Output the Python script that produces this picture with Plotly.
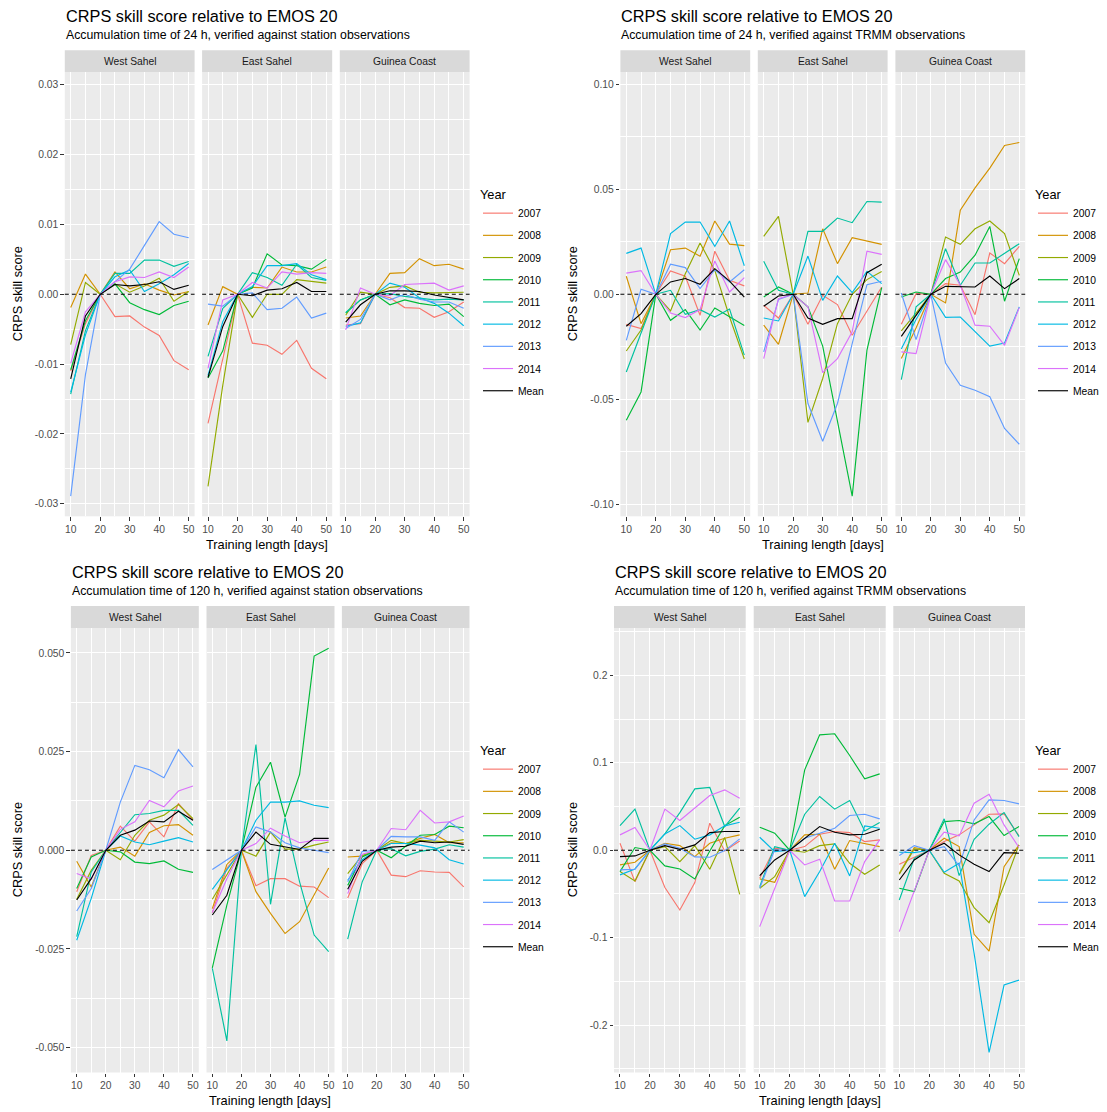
import plotly.graph_objects as go

# ---------------- data ----------------
training_length = [10, 15, 20, 25, 30, 35, 40, 45, 50]
series_names = ["2007", "2008", "2009", "2010", "2011", "2012", "2013", "2014", "Mean"]
series_colors = ["#F8766D", "#D39200", "#93AA00", "#00BA38", "#00C19F",
                 "#00B9E3", "#619CFF", "#DB72FB", "#000000"]
regions = ["West Sahel", "East Sahel", "Guinea Coast"]

# Accumulation 24 h, station observations (rows: 2007..2014, Mean)
station24_west_sahel = [
    [-0.0110, -0.0042, 0, -0.0032, -0.0031, -0.0047, -0.0059, -0.0095, -0.0108],
    [-0.0019, 0.0029, 0, 0.0032, 0.0008, 0.0015, 0.0006, -0.0001, 0.0004],
    [-0.0072, 0.0017, 0, 0.0015, 0.0003, 0.0012, 0.0023, -0.0010, 0.0004],
    [-0.0108, -0.0038, 0, 0.0015, -0.0012, -0.0022, -0.0029, -0.0016, -0.0010],
    [-0.0143, -0.0052, 0, 0.0030, 0.0030, 0.0049, 0.0049, 0.0040, 0.0047],
    [-0.0140, -0.0058, 0, 0.0025, 0.0035, 0.0004, 0.0015, 0.0028, 0.0044],
    [-0.0289, -0.0115, 0, 0.0018, 0.0036, 0.0070, 0.0104, 0.0086, 0.0081],
    [-0.0099, -0.0025, 0, 0.0018, 0.0025, 0.0024, 0.0032, 0.0024, 0.0039],
    [-0.0121, -0.0031, 0, 0.0014, 0.0012, 0.0014, 0.0018, 0.0007, 0.0013],
]
station24_east_sahel = [
    [-0.0185, -0.0093, 0, -0.0070, -0.0073, -0.0086, -0.0066, -0.0106, -0.0121],
    [-0.0044, 0.0011, 0, 0.0010, 0.0009, 0.0039, 0.0032, 0.0032, 0.0039],
    [-0.0275, -0.0130, 0, -0.0033, 0.0000, 0.0000, 0.0021, 0.0019, 0.0016],
    [-0.0120, -0.0081, 0, 0.0009, 0.0058, 0.0042, 0.0041, 0.0036, 0.0050],
    [-0.0089, -0.0020, 0, 0.0031, 0.0024, 0.0013, 0.0043, 0.0024, 0.0020],
    [-0.0116, -0.0039, 0, 0.0011, 0.0041, 0.0041, 0.0044, 0.0028, 0.0021],
    [-0.0014, -0.0017, 0, 0.0002, -0.0022, -0.0020, -0.0004, -0.0034, -0.0027],
    [-0.0106, -0.0008, 0, 0.0017, 0.0009, 0.0032, 0.0029, 0.0031, 0.0030],
    [-0.0119, -0.0046, 0, -0.0002, 0.0006, 0.0008, 0.0017, 0.0004, 0.0004],
]
station24_guinea_coast = [
    [-0.0044, -0.0042, 0, -0.0005, -0.0019, -0.0020, -0.0033, -0.0025, -0.0011],
    [-0.0034, -0.0031, 0, 0.0030, 0.0031, 0.0051, 0.0041, 0.0043, 0.0036],
    [-0.0030, 0.0003, 0, 0.0010, 0.0012, 0.0003, 0.0002, 0.0002, 0.0003],
    [-0.0027, -0.0008, 0, -0.0015, -0.0008, -0.0013, -0.0016, -0.0014, -0.0032],
    [-0.0026, -0.0008, 0, 0.0001, -0.0003, -0.0005, -0.0008, -0.0007, -0.0008],
    [-0.0046, -0.0041, 0, 0.0016, 0.0010, -0.0005, -0.0013, -0.0027, -0.0045],
    [-0.0049, -0.0036, 0, -0.0008, 0.0000, -0.0007, -0.0011, -0.0011, -0.0020],
    [-0.0051, 0.0009, 0, -0.0002, 0.0014, 0.0015, 0.0016, 0.0006, 0.0012],
    [-0.0040, -0.0015, 0, 0.0005, 0.0005, 0.0004, -0.0001, -0.0005, -0.0008],
]

# Accumulation 24 h, TRMM observations
trmm24_west_sahel = [
    [-0.0143, -0.0163, 0, 0.0111, 0.0086, -0.0100, 0.0205, 0.0067, 0.0040],
    [0.0086, -0.0140, 0, 0.0212, 0.0220, 0.0181, 0.0349, 0.0239, 0.0232],
    [-0.0270, -0.0170, 0, -0.0079, 0.0098, 0.0244, 0.0114, -0.0108, -0.0308],
    [-0.0600, -0.0465, 0, -0.0124, -0.0073, -0.0170, -0.0065, -0.0105, -0.0149],
    [-0.0370, -0.0180, 0, 0.0019, -0.0095, -0.0073, -0.0108, -0.0070, -0.0290],
    [0.0195, 0.0220, 0, 0.0289, 0.0344, 0.0344, 0.0228, 0.0349, 0.0136],
    [-0.0219, 0.0024, 0, 0.0143, 0.0127, 0.0027, 0.0117, 0.0059, 0.0117],
    [0.0101, 0.0113, 0, -0.0089, -0.0111, -0.0073, 0.0159, 0.0011, 0.0079],
    [-0.0152, -0.0092, 0, 0.0059, 0.0075, 0.0048, 0.0122, 0.0063, -0.0013],
]
trmm24_east_sahel = [
    [-0.0052, -0.0113, 0, -0.0143, -0.0005, -0.0049, -0.0195, -0.0079, 0.0035],
    [-0.0147, -0.0238, 0, 0.0006, 0.0312, 0.0146, 0.0270, 0.0254, 0.0238],
    [0.0276, 0.0371, 0, -0.0610, -0.0401, -0.0140, 0.0000, 0.0070, 0.0109],
    [-0.0013, 0.0035, 0, -0.0060, -0.0247, -0.0600, -0.0961, -0.0266, 0.0032],
    [0.0157, 0.0019, 0, 0.0300, 0.0300, 0.0363, 0.0341, 0.0442, 0.0439],
    [-0.0113, -0.0127, 0, 0.0182, -0.0029, 0.0087, 0.0008, 0.0109, 0.0051],
    [-0.0274, -0.0025, 0, -0.0520, -0.0700, -0.0520, -0.0235, 0.0046, 0.0062],
    [-0.0306, -0.0021, 0, -0.0060, -0.0373, -0.0306, -0.0179, 0.0205, 0.0190],
    [-0.0057, -0.0008, 0, -0.0113, -0.0143, -0.0116, -0.0116, 0.0103, 0.0143],
]
trmm24_guinea_coast = [
    [-0.0143, 0.0003, 0, 0.0051, 0.0043, -0.0097, 0.0197, 0.0146, 0.0228],
    [-0.0306, -0.0160, 0, -0.0041, 0.0400, 0.0507, 0.0601, 0.0709, 0.0723],
    [-0.0174, -0.0090, 0, 0.0273, 0.0238, 0.0312, 0.0349, 0.0289, 0.0090],
    [-0.0013, 0.0011, 0, 0.0075, 0.0106, 0.0186, 0.0323, -0.0033, 0.0170],
    [-0.0406, -0.0060, 0, 0.0217, 0.0043, 0.0149, 0.0149, 0.0193, 0.0241],
    [-0.0260, -0.0120, 0, -0.0110, -0.0108, -0.0180, -0.0247, -0.0232, -0.0060],
    [0.0006, -0.0216, 0, -0.0327, -0.0433, -0.0457, -0.0488, -0.0639, -0.0714],
    [-0.0274, -0.0282, 0, 0.0165, 0.0043, -0.0147, -0.0152, -0.0243, -0.0063],
    [-0.0200, -0.0100, 0, 0.0038, 0.0038, 0.0035, 0.0087, 0.0027, 0.0075],
]

# Accumulation 120 h, station observations
station120_west_sahel = [
    [-0.0105, -0.0013, 0, 0.0061, 0.0023, 0.0072, 0.0034, 0.0118, 0.0076],
    [-0.0028, -0.0093, 0, 0.0008, -0.0015, 0.0045, 0.0062, 0.0065, 0.0038],
    [-0.0124, -0.0051, 0, -0.0024, 0.0038, 0.0076, 0.0089, 0.0116, 0.0080],
    [-0.0097, -0.0017, 0, -0.0004, -0.0030, -0.0034, -0.0027, -0.0048, -0.0056],
    [-0.0219, -0.0055, 0, 0.0045, 0.0090, 0.0093, 0.0101, 0.0101, 0.0063],
    [-0.0228, -0.0122, 0, 0.0036, 0.0021, 0.0014, 0.0023, 0.0032, 0.0021],
    [-0.0154, -0.0097, 0, 0.0122, 0.0215, 0.0204, 0.0184, 0.0255, 0.0211],
    [-0.0059, -0.0073, 0, 0.0053, 0.0072, 0.0126, 0.0110, 0.0150, 0.0163],
    [-0.0126, -0.0072, 0, 0.0038, 0.0051, 0.0074, 0.0072, 0.0099, 0.0076],
]
station120_east_sahel = [
    [-0.0158, -0.0046, 0, -0.0090, -0.0072, -0.0072, -0.0091, -0.0093, -0.0120],
    [-0.0148, -0.0036, 0, -0.0105, -0.0160, -0.0211, -0.0181, -0.0112, -0.0045],
    [-0.0124, -0.0063, 0, -0.0015, 0.0046, 0.0003, 0.0003, 0.0013, 0.0021],
    [-0.0298, -0.0139, 0, 0.0160, 0.0223, 0.0084, 0.0192, 0.0492, 0.0512],
    [-0.0299, -0.0483, 0, 0.0268, -0.0137, 0.0082, -0.0080, -0.0215, -0.0257],
    [-0.0099, -0.0051, 0, 0.0076, 0.0122, 0.0122, 0.0125, 0.0114, 0.0108],
    [-0.0049, -0.0024, 0, 0.0059, 0.0046, 0.0019, 0.0006, 0.0000, -0.0006],
    [-0.0158, -0.0072, 0, 0.0017, 0.0056, 0.0036, 0.0019, 0.0025, 0.0025],
    [-0.0164, -0.0114, 0, 0.0046, 0.0015, 0.0008, 0.0002, 0.0030, 0.0030],
]
station120_guinea_coast = [
    [-0.0121, -0.0034, 0, -0.0063, -0.0067, -0.0052, -0.0055, -0.0056, -0.0093],
    [-0.0017, -0.0015, 0, 0.0019, 0.0017, 0.0030, 0.0040, 0.0019, 0.0019],
    [-0.0059, -0.0013, 0, 0.0025, 0.0017, 0.0025, 0.0023, 0.0021, 0.0027],
    [-0.0089, -0.0017, 0, -0.0019, 0.0010, 0.0038, 0.0040, 0.0061, 0.0057],
    [-0.0225, -0.0080, 0, 0.0004, -0.0014, -0.0003, 0.0003, 0.0014, 0.0008],
    [-0.0076, -0.0024, 0, 0.0017, 0.0017, 0.0013, 0.0006, -0.0024, -0.0035],
    [-0.0080, -0.0003, 0, 0.0035, 0.0034, 0.0034, 0.0025, 0.0072, 0.0046],
    [-0.0110, -0.0010, 0, 0.0055, 0.0052, 0.0101, 0.0069, 0.0072, 0.0087],
    [-0.0099, -0.0028, 0, 0.0008, 0.0010, 0.0023, 0.0019, 0.0021, 0.0015],
]

# Accumulation 120 h, TRMM observations
trmm120_west_sahel = [
    [0.0080, -0.0359, 0, -0.0427, -0.0683, -0.0370, 0.0309, -0.0008, 0.0107],
    [-0.0168, -0.0137, 0, 0.0080, 0.0053, -0.0073, 0.0080, 0.0137, 0.0176],
    [-0.0244, -0.0351, 0, 0.0042, -0.0130, 0.0053, -0.0218, 0.0145, -0.0504],
    [-0.0244, 0.0031, 0, -0.0179, -0.0214, -0.0328, -0.0008, 0.0282, 0.0378],
    [0.0282, 0.0470, 0, 0.0187, 0.0431, 0.0702, 0.0718, 0.0271, 0.0481],
    [-0.0282, -0.0214, 0, 0.0187, 0.0282, 0.0126, 0.0176, 0.0279, 0.0321],
    [-0.0225, -0.0218, 0, 0.0073, 0.0023, -0.0076, -0.0080, -0.0004, 0.0130],
    [0.0176, 0.0260, 0, 0.0470, 0.0340, 0.0481, 0.0626, 0.0691, 0.0595],
    [-0.0073, -0.0065, 0, 0.0053, 0.0011, 0.0061, 0.0202, 0.0214, 0.0214],
]
trmm120_east_sahel = [
    [-0.0321, 0.0023, 0, 0.0042, 0.0183, 0.0214, 0.0202, 0.0099, 0.0118],
    [-0.0328, -0.0366, 0, 0.0176, 0.0183, -0.0218, 0.0111, 0.0080, 0.0042],
    [-0.0435, -0.0302, 0, -0.0023, 0.0053, 0.0073, -0.0149, -0.0275, -0.0168],
    [0.0263, 0.0195, 0, 0.0920, 0.1320, 0.1332, 0.1084, 0.0817, 0.0874],
    [-0.0416, 0.0042, 0, 0.0412, 0.0615, 0.0470, 0.0569, 0.0221, 0.0317],
    [0.0149, -0.0015, 0, -0.0531, -0.0244, 0.0080, -0.0294, 0.0279, 0.0252],
    [-0.0435, 0.0004, 0, 0.0137, 0.0195, 0.0252, 0.0397, 0.0412, 0.0359],
    [-0.0874, -0.0435, 0, -0.0168, -0.0103, -0.0580, -0.0580, -0.0130, 0.0118],
    [-0.0290, -0.0111, 0, 0.0137, 0.0271, 0.0206, 0.0176, 0.0183, 0.0240],
]
trmm120_guinea_coast = [
    [-0.0160, -0.0080, 0, 0.0099, 0.0176, 0.0290, 0.0412, 0.0416, 0.0164],
    [-0.0263, 0.0031, 0, 0.0137, 0.0042, -0.0962, -0.1153, -0.0187, 0.0061],
    [-0.0275, 0.0015, 0, -0.0263, -0.0351, -0.0656, -0.0828, -0.0397, 0.0061],
    [-0.0435, -0.0473, 0, 0.0328, 0.0340, 0.0302, 0.0385, 0.0168, 0.0271],
    [-0.0569, -0.0092, 0, 0.0359, -0.0290, 0.0126, 0.0298, 0.0431, 0.0156],
    [-0.0023, -0.0027, 0, -0.0252, -0.0149, -0.1180, -0.2311, -0.1542, -0.1485],
    [-0.0061, 0.0053, 0, 0.0042, -0.0179, 0.0347, 0.0576, 0.0569, 0.0531],
    [-0.0931, -0.0473, 0, 0.0206, 0.0164, 0.0538, 0.0641, 0.0290, 0.0031],
    [-0.0340, -0.0111, 0, 0.0080, -0.0053, -0.0160, -0.0244, -0.0027, -0.0034],
]

x_ticks = [10, 20, 30, 40, 50]
x_tick_labels = ["10", "20", "30", "40", "50"]
x_minor = [15, 25, 35, 45]

p1_ticks = [-0.03, -0.02, -0.01, 0.0, 0.01, 0.02, 0.03]
p1_labels = ["-0.03", "-0.02", "-0.01", "0.00", "0.01", "0.02", "0.03"]
p2_ticks = [-0.10, -0.05, 0.0, 0.05, 0.10]
p2_labels = ["-0.10", "-0.05", "0.00", "0.05", "0.10"]
p3_ticks = [-0.05, -0.025, 0.0, 0.025, 0.05]
p3_labels = ["-0.050", "-0.025", "0.000", "0.025", "0.050"]
p4_ticks = [-0.2, -0.1, 0.0, 0.1, 0.2]
p4_labels = ["-0.2", "-0.1", "0.0", "0.1", "0.2"]

title_text = "CRPS skill score relative to EMOS 20"
subtitles = [
    "Accumulation time of 24 h, verified against station observations",
    "Accumulation time of 24 h, verified against TRMM observations",
    "Accumulation time of 120 h, verified against station observations",
    "Accumulation time of 120 h, verified against TRMM observations",
]

# ---------------- layout geometry (pixels) ----------------
W, H = 1107, 1112
FONT = "Liberation Sans, Arial, Helvetica, sans-serif"


def fx(x):
    return x / W


def fy(y):
    return 1 - y / H


panels = [
    dict(data=[station24_west_sahel, station24_east_sahel, station24_guinea_coast],
         ticks=p1_ticks, labels=p1_labels,
         facets=[(64.8, 194.6), (202.1, 332.2), (339.8, 469.6)], top=72.3, bottom=516.3,
         ytitle_x=17, legend_x=478, legend_top=182),
    dict(data=[trmm24_west_sahel, trmm24_east_sahel, trmm24_guinea_coast],
         ticks=p2_ticks, labels=p2_labels,
         facets=[(620.4, 750.2), (757.8, 887.6), (895.4, 1025.2)], top=72.3, bottom=516.3,
         ytitle_x=572, legend_x=1033, legend_top=182),
    dict(data=[station120_west_sahel, station120_east_sahel, station120_guinea_coast],
         ticks=p3_ticks, labels=p3_labels,
         facets=[(70.9, 198.8), (206.5, 334.5), (341.9, 469.5)], top=628.0, bottom=1072.5,
         ytitle_x=17, legend_x=478, legend_top=738),
    dict(data=[trmm120_west_sahel, trmm120_east_sahel, trmm120_guinea_coast],
         ticks=p4_ticks, labels=p4_labels,
         facets=[(614.0, 745.7), (753.7, 885.7), (893.3, 1025.0)], top=628.0, bottom=1072.5,
         ytitle_x=572, legend_x=1033, legend_top=738),
]

fig = go.Figure()
layout = dict(
    width=W, height=H, autosize=False,
    margin=dict(l=0, r=0, t=0, b=0, autoexpand=False),
    paper_bgcolor="white", plot_bgcolor="#EBEBEB",
    font=dict(family=FONT, color="#000000"),
    showlegend=True,
)
annotations = []
shapes = []

axis_idx = 0
for p_i, p in enumerate(panels):
    # symmetric limits, 5% expansion as in the original figure
    max_abs = max(abs(v) for facet in p["data"] for row in facet for v in row)
    yr = [-1.1 * max_abs, 1.1 * max_abs]
    step = p["ticks"][1] - p["ticks"][0]
    y_minor = [t + step / 2 for t in [p["ticks"][0] - step] + p["ticks"]]
    y_minor = [v for v in y_minor if yr[0] <= v <= yr[1]]
    legend_name = "legend" if p_i == 0 else "legend%d" % (p_i + 1)

    for f_i, (x0, x1) in enumerate(p["facets"]):
        axis_idx += 1
        sfx = "" if axis_idx == 1 else str(axis_idx)
        xa, ya = "x" + sfx, "y" + sfx
        layout["xaxis" + sfx] = dict(
            domain=[fx(x0), fx(x1)], anchor=ya, range=[8, 52],
            tickmode="array", tickvals=x_ticks, ticktext=x_tick_labels,
            showgrid=True, gridcolor="white", gridwidth=1.1,
            minor=dict(tickmode="array", tickvals=x_minor, showgrid=True,
                       gridcolor="white", gridwidth=0.55, ticks=""),
            ticks="outside", ticklen=3.5, tickwidth=1.1, tickcolor="#333333",
            tickfont=dict(size=10.3, color="#4D4D4D", family=FONT),
            zeroline=False, showline=False, fixedrange=True, automargin=False,
        )
        layout["yaxis" + sfx] = dict(
            domain=[fy(p["bottom"]), fy(p["top"])], anchor=xa, range=yr,
            tickmode="array", tickvals=p["ticks"], ticktext=p["labels"],
            showgrid=True, gridcolor="white", gridwidth=1.1,
            minor=dict(tickmode="array", tickvals=y_minor, showgrid=True,
                       gridcolor="white", gridwidth=0.55, ticks=""),
            ticks="outside" if f_i == 0 else "", ticklen=3.5, tickwidth=1.1,
            tickcolor="#333333", showticklabels=(f_i == 0),
            tickfont=dict(size=10.3, color="#4D4D4D", family=FONT),
            zeroline=False, showline=False, fixedrange=True, automargin=False,
        )
        facet_data = p["data"][f_i]
        for s_i, name in enumerate(series_names):
            fig.add_trace(go.Scatter(
                x=training_length, y=facet_data[s_i], mode="lines", name=name,
                line=dict(color=series_colors[s_i], width=1.15),
                xaxis=xa, yaxis=ya, legend=legend_name,
                legendgroup="p%d_%s" % (p_i, name),
                showlegend=(f_i == 0), hoverinfo="x+y+name",
            ))
        # dashed zero reference line
        shapes.append(dict(type="line", xref=xa + " domain", x0=0, x1=1,
                           yref=ya, y0=0, y1=0, layer="above",
                           line=dict(color="black", width=1.1, dash="4px,3px")))
        # strip
        shapes.append(dict(type="rect", xref="paper", yref="paper",
                           x0=fx(x0), x1=fx(x1), y0=fy(p["top"]), y1=fy(p["top"] - 22),
                           fillcolor="#D9D9D9", line=dict(width=0), layer="below"))
        annotations.append(dict(text=regions[f_i], xref="paper", yref="paper",
                                x=fx((x0 + x1) / 2), y=fy(p["top"] - 11),
                                xanchor="center", yanchor="middle", showarrow=False,
                                font=dict(size=10.3, color="#1A1A1A", family=FONT)))

    left = p["facets"][0][0]
    right = p["facets"][2][1]
    # titles
    annotations.append(dict(text=title_text, xref="paper", yref="paper",
                            x=fx(left - 1), y=fy(p["top"] - 56), xanchor="left",
                            yanchor="middle", showarrow=False,
                            font=dict(size=16.3, color="#000000", family=FONT)))
    annotations.append(dict(text=subtitles[p_i], xref="paper", yref="paper",
                            x=fx(left - 1), y=fy(p["top"] - 37), xanchor="left",
                            yanchor="middle", showarrow=False,
                            font=dict(size=12.3, color="#000000", family=FONT)))
    # axis titles
    annotations.append(dict(text="Training length [days]", xref="paper", yref="paper",
                            x=fx((left + right) / 2), y=fy(p["bottom"] + 28),
                            xanchor="center", yanchor="middle", showarrow=False,
                            font=dict(size=12.8, color="#000000", family=FONT)))
    annotations.append(dict(text="CRPS skill score", xref="paper", yref="paper",
                            x=fx(p["ytitle_x"]), y=fy((p["top"] + p["bottom"]) / 2),
                            xanchor="center", yanchor="middle", showarrow=False,
                            textangle=-90,
                            font=dict(size=12.8, color="#000000", family=FONT)))
    layout[legend_name] = dict(
        x=fx(p["legend_x"]), y=fy(p["legend_top"]), xanchor="left", yanchor="top",
        bgcolor="rgba(0,0,0,0)", borderwidth=0,
        title=dict(text="Year", font=dict(size=12.8, color="#000000", family=FONT)),
        font=dict(size=10.3, color="#000000", family=FONT),
        tracegroupgap=3.2, itemwidth=30, traceorder="grouped",
    )

layout["annotations"] = annotations
layout["shapes"] = shapes
fig.update_layout(**layout)
fig.write_html("out.html",
               config={"displayModeBar": False},
               post_script="document.body.style.margin='0px';"
                           "document.body.style.padding='0px';")
